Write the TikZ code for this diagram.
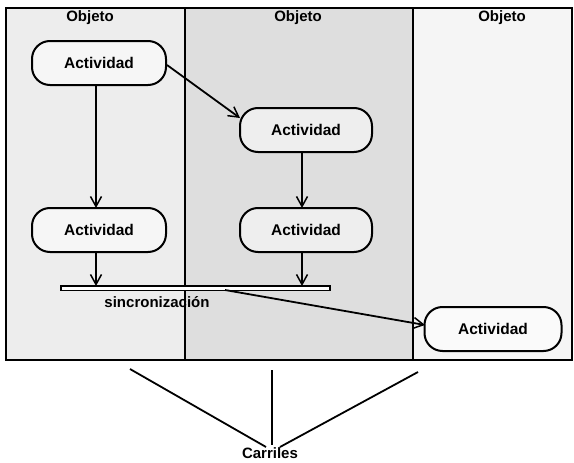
\documentclass[tikz,border=0pt]{standalone}
\usepackage{fontspec}
\setmainfont{Liberation Sans}
\usetikzlibrary{arrows.meta}
\begin{document}
\begin{tikzpicture}[x=1pt,y=-1pt,
  act/.style={draw, line width=2pt, rounded corners=18pt, minimum width=134pt, minimum height=44pt, font=\bfseries\fontsize{15.5}{17}\selectfont, fill=white, fill opacity=0.5, text opacity=1},
  lbl/.style={font=\bfseries\fontsize{15}{17}\selectfont},
  flow/.style={line width=1.8pt, -{Straight Barb[length=10pt,width=11pt,line width=1.5pt]}},
  frame/.style={line width=2pt}]
\useasboundingbox (0,0) rectangle (574,463);
% lanes
\fill[black!7] (6,8) rectangle (185,360);
\fill[black!13] (185,8) rectangle (413,360);
\fill[black!4] (413,8) rectangle (572,360);
\draw[frame] (6,8) rectangle (572,360);
\draw[frame] (185,8) -- (185,360);
\draw[frame] (413,8) -- (413,360);
\node[lbl] (o1) at (90,18) {Objeto};
\node[lbl] (o2) at (298,18) {Objeto};
\node[lbl] (o3) at (502,18) {Objeto};
% activities
\node[act] (a1) at (99,63) {Actividad};
\node[act, minimum width=132pt] (a2) at (306,130) {Actividad};
\node[act] (a3) at (99,230) {Actividad};
\node[act, minimum width=132pt] (a4) at (306,230) {Actividad};
\node[act, minimum width=137pt] (a5) at (493,329) {Actividad};
% sync bar
\node[draw, line width=1.5pt, fill=white, minimum width=269pt, minimum height=4.5pt, inner sep=0pt] (bar) at (195.5,288) {};
\node[lbl] (sync) at (157,302) {sincronización};
% flows
\draw[flow] (96,85) -- (96,208);
\draw[flow] (96,252) -- (96,286);
\draw[flow] (302,152) -- (302,208);
\draw[flow] (302,252) -- (302,286);
\draw[flow] (a1.east) ++(0,2) -- (240,118);
\coordinate (bs) at (225,290);
\draw[flow] (bs) -- (425,325);
% carriles
\node[lbl, anchor=south] (car) at (270,462) {Carriles};
\coordinate (c1) at (130,369);
\coordinate (c2) at (272,370);
\coordinate (c3) at (418,372);
\draw[line width=1.8pt] (c1) -- (266,447);
\draw[line width=1.8pt] (c2) -- (272,445);
\draw[line width=1.8pt] (c3) -- (280,447);
\end{tikzpicture}
\end{document}
